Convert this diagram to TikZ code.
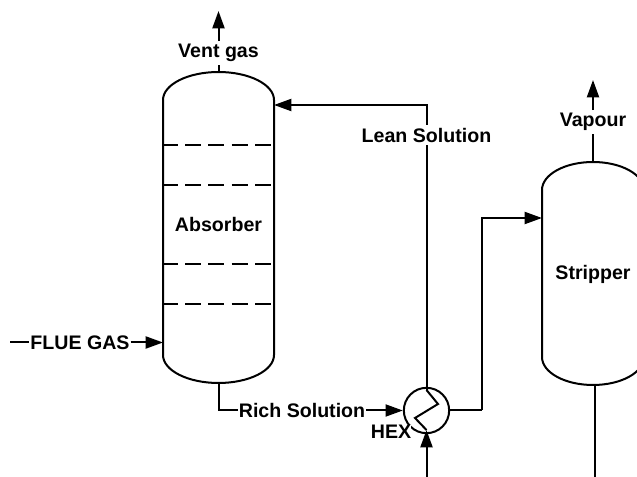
\documentclass[tikz,border=0pt]{standalone}
\usepackage{fontspec}
\setmainfont{Liberation Sans}
\usetikzlibrary{arrows.meta}

\begin{document}
\begin{tikzpicture}[x=0.75pt,y=-0.75pt,line width=1.5pt]
\tikzset{lab/.style={font=\fontsize{14.7}{16}\bfseries,inner sep=1.5pt,fill=white},
arr/.style={-{Triangle[length=13pt,width=9pt]}},
hx/.style={circle,draw,fill=white,minimum size=34pt,inner sep=0pt}}
\useasboundingbox (0,0) rectangle (637,477);

\coordinate (abstop) at (218.5,72);
\coordinate (absbot) at (218.5,383);
\coordinate (absin) at (163,342.5);
\coordinate (absret) at (274,105);
\coordinate (strtop) at (593,162);
\coordinate (strbot) at (595,385);
\coordinate (strin) at (542,218);
\coordinate (ventout) at (218.5,11);
\coordinate (vapout) at (593,80);
\coordinate (flue) at (10,342.5);
\coordinate (r1) at (218.5,410.5);
\coordinate (l1) at (426.5,105);
\coordinate (o1) at (482,410.5);
\coordinate (o2) at (482,218);
\coordinate (leanin) at (426.5,477);
\coordinate (richout) at (595,477);
\coordinate (z1) at (426.5,390);
\coordinate (z2) at (438,404);
\coordinate (z3) at (415,418);
\coordinate (z4) at (426.5,430);

% vessels
\draw (163,100) arc[start angle=180,end angle=360,x radius=55.5,y radius=28] -- (274,355)
arc[start angle=0,end angle=180,x radius=55.5,y radius=28] -- cycle;
\draw (542,190) arc[start angle=180,end angle=360,x radius=51,y radius=28] -- (644,357)
arc[start angle=0,end angle=180,x radius=51,y radius=28] -- cycle;
\foreach \y in {145,185,264,304}
\draw[dash pattern=on 12pt off 5.5pt,dash phase=1pt] (163,\y) -- (272,\y);

\node[hx] (hex) at (426.5,410.5) {};
\node[lab] (vent) at (218.5,53) {Vent gas};
\node[lab] (vap) at (593,122) {Vapour};
\node[lab] (lean) at (426.5,135) {Lean Solution};
\node[lab,inner sep=0pt] (rich) at (302,410.5) {Rich Solution};
\node[lab,inner sep=0pt] (fluegas) at (80,342.5) {FLUE GAS};
\node[lab,inner sep=0pt] (hexlab) at (391,432) {HEX};
\node[lab,fill=none] (abs) at (218.5,224) {Absorber};
\node[lab,fill=none] (str) at (593,274) {Stripper};

\draw (abstop) -- (vent);
\draw[arr] (vent) -- (ventout);
\draw (strtop) -- (vap);
\draw[arr] (vap) -- (vapout);
\draw (flue) -- (fluegas);
\draw[arr] (fluegas) -- (absin);
\draw (absbot) -- (r1) -- (rich);
\draw[arr] (rich) -- (hex);
\draw[arr] (lean) -- (l1) -- (absret);
\draw (z1) -- (lean);
\draw (z1) -- (z2) -- (z3) -- (z4);
\draw[arr] (leanin) -- (z4);
\draw (hex) -- (o1);
\draw[arr] (o1) -- (o2) -- (strin);
\draw (strbot) -- (richout);
\end{tikzpicture}
\end{document}
